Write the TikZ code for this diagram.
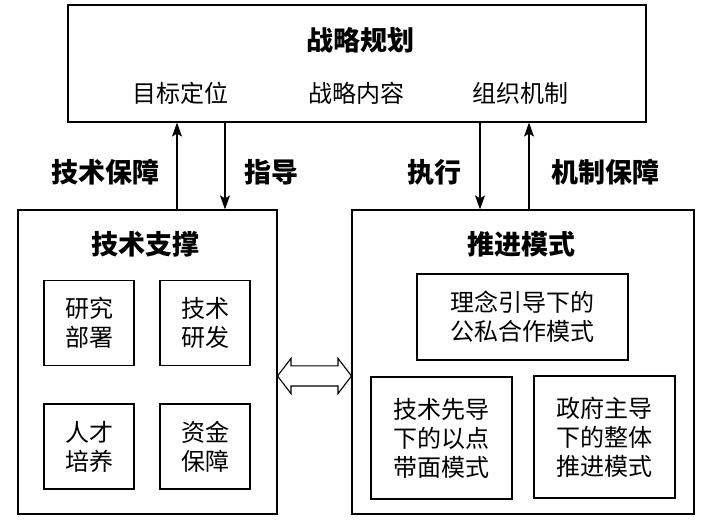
\documentclass[tikz,border=0pt]{standalone}
\usepackage{fontspec}
\setmainfont{Noto Sans CJK SC}
\usetikzlibrary{arrows.meta, positioning, shapes.arrows}

\begin{document}
\begin{tikzpicture}[
    x=1pt, y=-1pt,
    frame/.style={rectangle, draw=black, line width=1.2pt, inner sep=0pt},
    inbox/.style={rectangle, draw=black, line width=1.1pt, align=center, inner sep=0pt, font=\fontsize{24}{29}\selectfont},
    title/.style={inner sep=0pt, font=\fontsize{27}{32}\selectfont\bfseries},
    item/.style={inner sep=0pt, font=\fontsize{24}{29}\selectfont},
    tag/.style={inner sep=0pt, font=\fontsize{27}{32}\selectfont\bfseries},
    line/.style={draw=black, line width=1.1pt, -{Stealth[length=14pt, width=10pt, inset=3pt]}}
]
    \useasboundingbox (0,0) rectangle (702,521);

    % Strategy planning
    \node[frame, minimum width=578, minimum height=117] (plan) at (357,63.5) {};
    \node[title] (plantitle) at (360,40) {战略规划};
    \node[item] (goal) at (180,93) {目标定位};
    \node[item] (content) at (356,93) {战略内容};
    \node[item] (mech) at (520,93) {组织机制};

    % Technical support
    \node[frame, minimum width=259, minimum height=304] (support) at (147.5,362) {};
    \node[title] (supporttitle) at (145,244) {技术支撑};
    \node[inbox, minimum width=90, minimum height=85] (research) at (89,323) {研究\\部署};
    \node[inbox, minimum width=90, minimum height=85] (develop) at (205,323) {技术\\研发};
    \node[inbox, minimum width=90, minimum height=85] (talent) at (89,446.5) {人才\\培养};
    \node[inbox, minimum width=90, minimum height=85] (fund) at (205,446.5) {资金\\保障};

    % Promotion modes
    \node[frame, minimum width=342, minimum height=304] (drive) at (523,362) {};
    \node[title] (drivetitle) at (521,244) {推进模式};
    \node[inbox, minimum width=211, minimum height=86] (idea) at (522.5,317) {理念引导下的\\公私合作模式};
    \node[inbox, minimum width=141, minimum height=122] (pilot) at (441.5,438) {技术先导\\下的以点\\带面模式};
    \node[inbox, minimum width=141, minimum height=122] (govern) at (604.5,437) {政府主导\\下的整体\\推进模式};

    % Connectors
    \coordinate (techx) at (177,0);
    \coordinate (guidex) at (225,0);
    \coordinate (runx) at (480,0);
    \coordinate (mechx) at (529,0);
    \draw[line] (support.north -| techx) -- node[tag, pos=0.43, left=17pt] {技术保障} (plan.south -| techx);
    \draw[line] (plan.south -| guidex) -- node[tag, pos=0.57, right=19pt] {指导} (support.north -| guidex);
    \draw[line] (plan.south -| runx) -- node[tag, pos=0.57, left=18pt] {执行} (drive.north -| runx);
    \draw[line] (drive.north -| mechx) -- node[tag, pos=0.43, right=22pt] {机制保障} (plan.south -| mechx);

    \node[double arrow, draw=black, line width=1.1pt, inner xsep=0pt, inner ysep=9.5pt, minimum height=74,
          double arrow head extend=7.5pt, double arrow tip angle=105] (link) at (314.5,376) {};
\end{tikzpicture}
\end{document}
